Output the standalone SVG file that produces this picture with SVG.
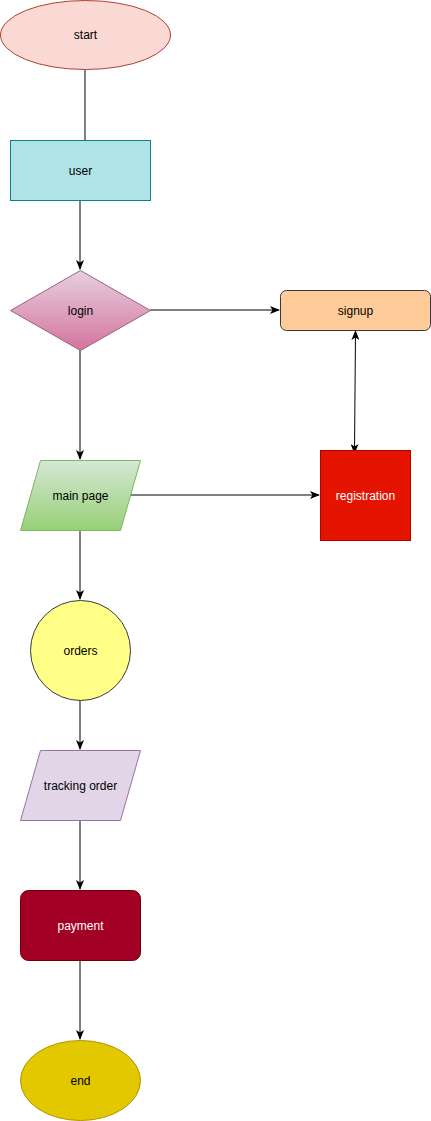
<svg xmlns="http://www.w3.org/2000/svg" width="431" height="1121" viewBox="0 0 431 1121">
<style>
text{font-family:"Liberation Sans",Arial,sans-serif;font-size:12px;text-anchor:middle;dominant-baseline:central;fill:#000}
.w{fill:#fff}
.c{fill:none;stroke:#000;stroke-width:1}
</style>
<defs>
<marker id="a" viewBox="0 0 10 8" refX="9" refY="4" markerWidth="10" markerHeight="8" markerUnits="userSpaceOnUse" orient="auto-start-reverse">
<path d="M0,0 L10,4 L0,8 L2.5,4 Z" fill="#000"/>
</marker>
<linearGradient id="gl" x1="0" y1="0" x2="0" y2="1"><stop offset="0" stop-color="#e6d0de"/><stop offset="1" stop-color="#d5739d"/></linearGradient>
<linearGradient id="gm" x1="0" y1="0" x2="0" y2="1"><stop offset="0" stop-color="#d5e8d4"/><stop offset="1" stop-color="#97d077"/></linearGradient>
</defs>
<rect width="431" height="1121" fill="#fff"/>
<g id="connectors">
<path class="c" d="M85,70 L85,140"/>
<path class="c" d="M80,200 L80,269" marker-end="url(#a)"/>
<path class="c" d="M150,310 L279,310" marker-end="url(#a)"/>
<path class="c" d="M355.5,331 L354.5,453" marker-start="url(#a)" marker-end="url(#a)"/>
<path class="c" d="M80,350 L80,459" marker-end="url(#a)"/>
<path class="c" d="M131,495 L319,495" marker-end="url(#a)"/>
<path class="c" d="M80,530 L80,599" marker-end="url(#a)"/>
<path class="c" d="M80,700 L80,749" marker-end="url(#a)"/>
<path class="c" d="M80,820 L80,889" marker-end="url(#a)"/>
<path class="c" d="M80,960 L80,1039" marker-end="url(#a)"/>
</g>
<g id="start"><ellipse cx="85.5" cy="35" rx="85" ry="34.5" fill="#fad9d5" stroke="#ae4132"/><text x="85.5" y="35">start</text></g>
<g id="user"><rect x="10.5" y="140.5" width="140" height="60" fill="#b0e3e6" stroke="#0e8088"/><text x="80.5" y="170.5">user</text></g>
<g id="login"><path d="M80.5,270.5 L150.5,310.5 L80.5,350.5 L10.5,310.5 Z" fill="url(#gl)" stroke="#996185"/><text x="80.5" y="310.5">login</text></g>
<g id="signup"><rect x="280.5" y="290.5" width="150" height="40" rx="6" fill="#ffcc99" stroke="#36393d"/><text x="355.5" y="310.5">signup</text></g>
<g id="registration"><rect x="320.5" y="450.5" width="90" height="90" fill="#e51400" stroke="#b20000"/><text class="w" x="365.5" y="495.5">registration</text></g>
<g id="mainpage"><path d="M40.5,460.5 L140.5,460.5 L120.5,530.5 L20.5,530.5 Z" fill="url(#gm)" stroke="#82b366"/><text x="80.5" y="495.5">main page</text></g>
<g id="orders"><circle cx="80.5" cy="650.5" r="50" fill="#ffff88" stroke="#36393d"/><text x="80.5" y="650.5">orders</text></g>
<g id="tracking"><path d="M40.5,750.5 L140.5,750.5 L120.5,820.5 L20.5,820.5 Z" fill="#e1d5e7" stroke="#9673a6"/><text x="80.5" y="785.5">tracking order</text></g>
<g id="payment"><rect x="20.5" y="890.5" width="120" height="70" rx="8" fill="#a20025" stroke="#6f0000"/><text class="w" x="80.5" y="925.5">payment</text></g>
<g id="end"><ellipse cx="80.5" cy="1080.5" rx="60" ry="40" fill="#e3c800" stroke="#b09500"/><text x="80.5" y="1080.5">end</text></g>
</svg>
